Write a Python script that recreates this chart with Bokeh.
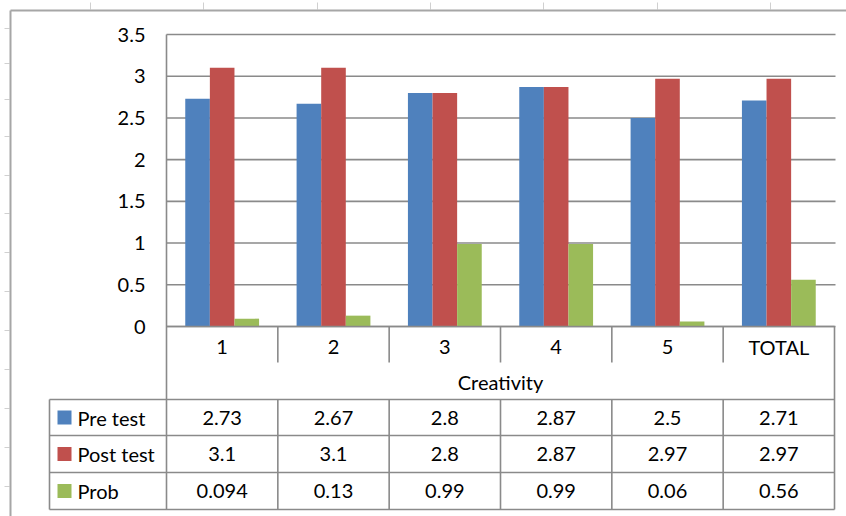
from bokeh.plotting import figure
from bokeh.models import Range1d
from bokeh.core.properties import value
from bokeh.embed import file_html
from bokeh.resources import INLINE

# ---------------- data ----------------
categories = ["1", "2", "3", "4", "5", "TOTAL"]
pre_test = [2.73, 2.67, 2.8, 2.87, 2.5, 2.71]
post_test = [3.1, 3.1, 2.8, 2.87, 2.97, 2.97]
prob = [0.094, 0.13, 0.99, 0.99, 0.06, 0.56]
series_names = ["Pre test", "Post test", "Prob"]
y_ticks = [0, 0.5, 1, 1.5, 2, 2.5, 3, 3.5]
axis_title = "Creativity"

# ---------------- layout (pixels) ----------------
W, H = 846, 516
PX0, PX1 = 166, 834          # plot area left / table right
PY0, PYTOP = 326, 34         # value 0 / value 3.5
YMAX = 3.5
ncat = len(categories)
cw = (PX1 - PX0) / ncat
yu = (PY0 - PYTOP) / YMAX

def dx(px):
    return (px - PX0) / cw

def dy(py):
    return (PY0 - py) / yu

FONT = value("Lato")
FS = "20px"
TXT = "#000000"
LINE = "#8a8a8a"
colors = ["#4F81BD", "#C0504D", "#9BBB59"]

p = figure(width=W, height=H, x_range=Range1d(dx(0), dx(W)), y_range=Range1d(dy(H), dy(0)),
           output_backend="svg", toolbar_location=None, min_border=0,
           x_axis_type=None, y_axis_type=None)
p.outline_line_color = None
p.background_fill_color = "white"
p.border_fill_color = "white"

# spreadsheet decorations
top_ticks_px = [90, 203, 317, 430, 543, 657, 770]
left_ticks_px = [28, 63, 99, 136, 175, 213, 252, 291, 330, 369, 408, 447, 486]
p.segment(x0=[dx(v) for v in top_ticks_px], x1=[dx(v) for v in top_ticks_px],
          y0=dy(2), y1=dy(9), line_color="#d0d0d0", line_width=1)
p.segment(x0=dx(4), x1=dx(9), y0=[dy(v) for v in left_ticks_px], y1=[dy(v) for v in left_ticks_px],
          line_color="#d0d0d0", line_width=1)
# chart border
p.segment(x0=[dx(10), dx(10)], x1=[dx(10), dx(W + 5)], y0=[dy(10), dy(10)], y1=[dy(H + 5), dy(10)],
          line_color="#a6a6a6", line_width=2)

# gridlines
p.segment(x0=0, x1=dx(835), y0=y_ticks, y1=y_ticks, line_color=LINE, line_width=1.6)

# bars
series = [pre_test, post_test, prob]
bw = 0.221
centers = [i + 0.5 for i in range(ncat)]
for k, (vals, c) in enumerate(zip(series, colors)):
    xs = [cx + (k - 1) * bw for cx in centers]
    p.vbar(x=xs, top=vals, bottom=0, width=bw, fill_color=c, line_color=None)

# y tick labels
p.text(x=dx(145), y=y_ticks, text=[f"{t:g}" for t in y_ticks], text_align="right",
       text_baseline="middle", text_font=FONT, text_font_size=FS, text_color=TXT)

# table structure
LEG_X0 = 49
rows_px = [399, 435, 472, 509]
# left plot border
p.segment(x0=0, x1=0, y0=YMAX, y1=dy(rows_px[-1]), line_color=LINE, line_width=1.6)
# axis line
p.segment(x0=0, x1=ncat, y0=0, y1=0, line_color=LINE, line_width=1.6)
# right table border
p.segment(x0=ncat, x1=ncat, y0=0, y1=dy(rows_px[-1]), line_color=LINE, line_width=1.6)
# category dividers
p.segment(x0=list(range(1, ncat)), x1=list(range(1, ncat)), y0=0, y1=dy(362), line_color=LINE, line_width=1.6)
# row lines
p.segment(x0=dx(LEG_X0), x1=ncat, y0=[dy(v) for v in rows_px], y1=[dy(v) for v in rows_px],
          line_color=LINE, line_width=1.6)
# vertical lines in data rows
vx = [dx(LEG_X0)] + list(range(1, ncat))
p.segment(x0=vx, x1=vx, y0=dy(rows_px[0]), y1=dy(rows_px[-1]), line_color=LINE, line_width=1.6)

# category labels
p.text(x=centers, y=dy(346), text=categories, text_align="center", text_baseline="middle",
       text_font=FONT, text_font_size=FS, text_color=TXT)
p.text(x=[ncat / 2], y=[dy(381)], text=[axis_title], text_align="center", text_baseline="middle",
       text_font=FONT, text_font_size=FS, text_color=TXT)

# data rows
for r, (vals, name, c) in enumerate(zip(series, series_names, colors)):
    yc = dy((rows_px[r] + rows_px[r + 1]) / 2)
    p.text(x=centers, y=yc, text=[f"{v:g}" for v in vals], text_align="center", text_baseline="middle",
           text_font=FONT, text_font_size=FS, text_color=TXT)
    p.rect(x=[dx(64)], y=[yc], width=14, height=14, width_units="screen", height_units="screen",
           fill_color=c, line_color=None)
    p.text(x=[dx(77)], y=[yc], text=[name], text_align="left", text_baseline="middle",
           text_font=FONT, text_font_size=FS, text_color=TXT)

open("out.html", "w").write(file_html(p, INLINE))
